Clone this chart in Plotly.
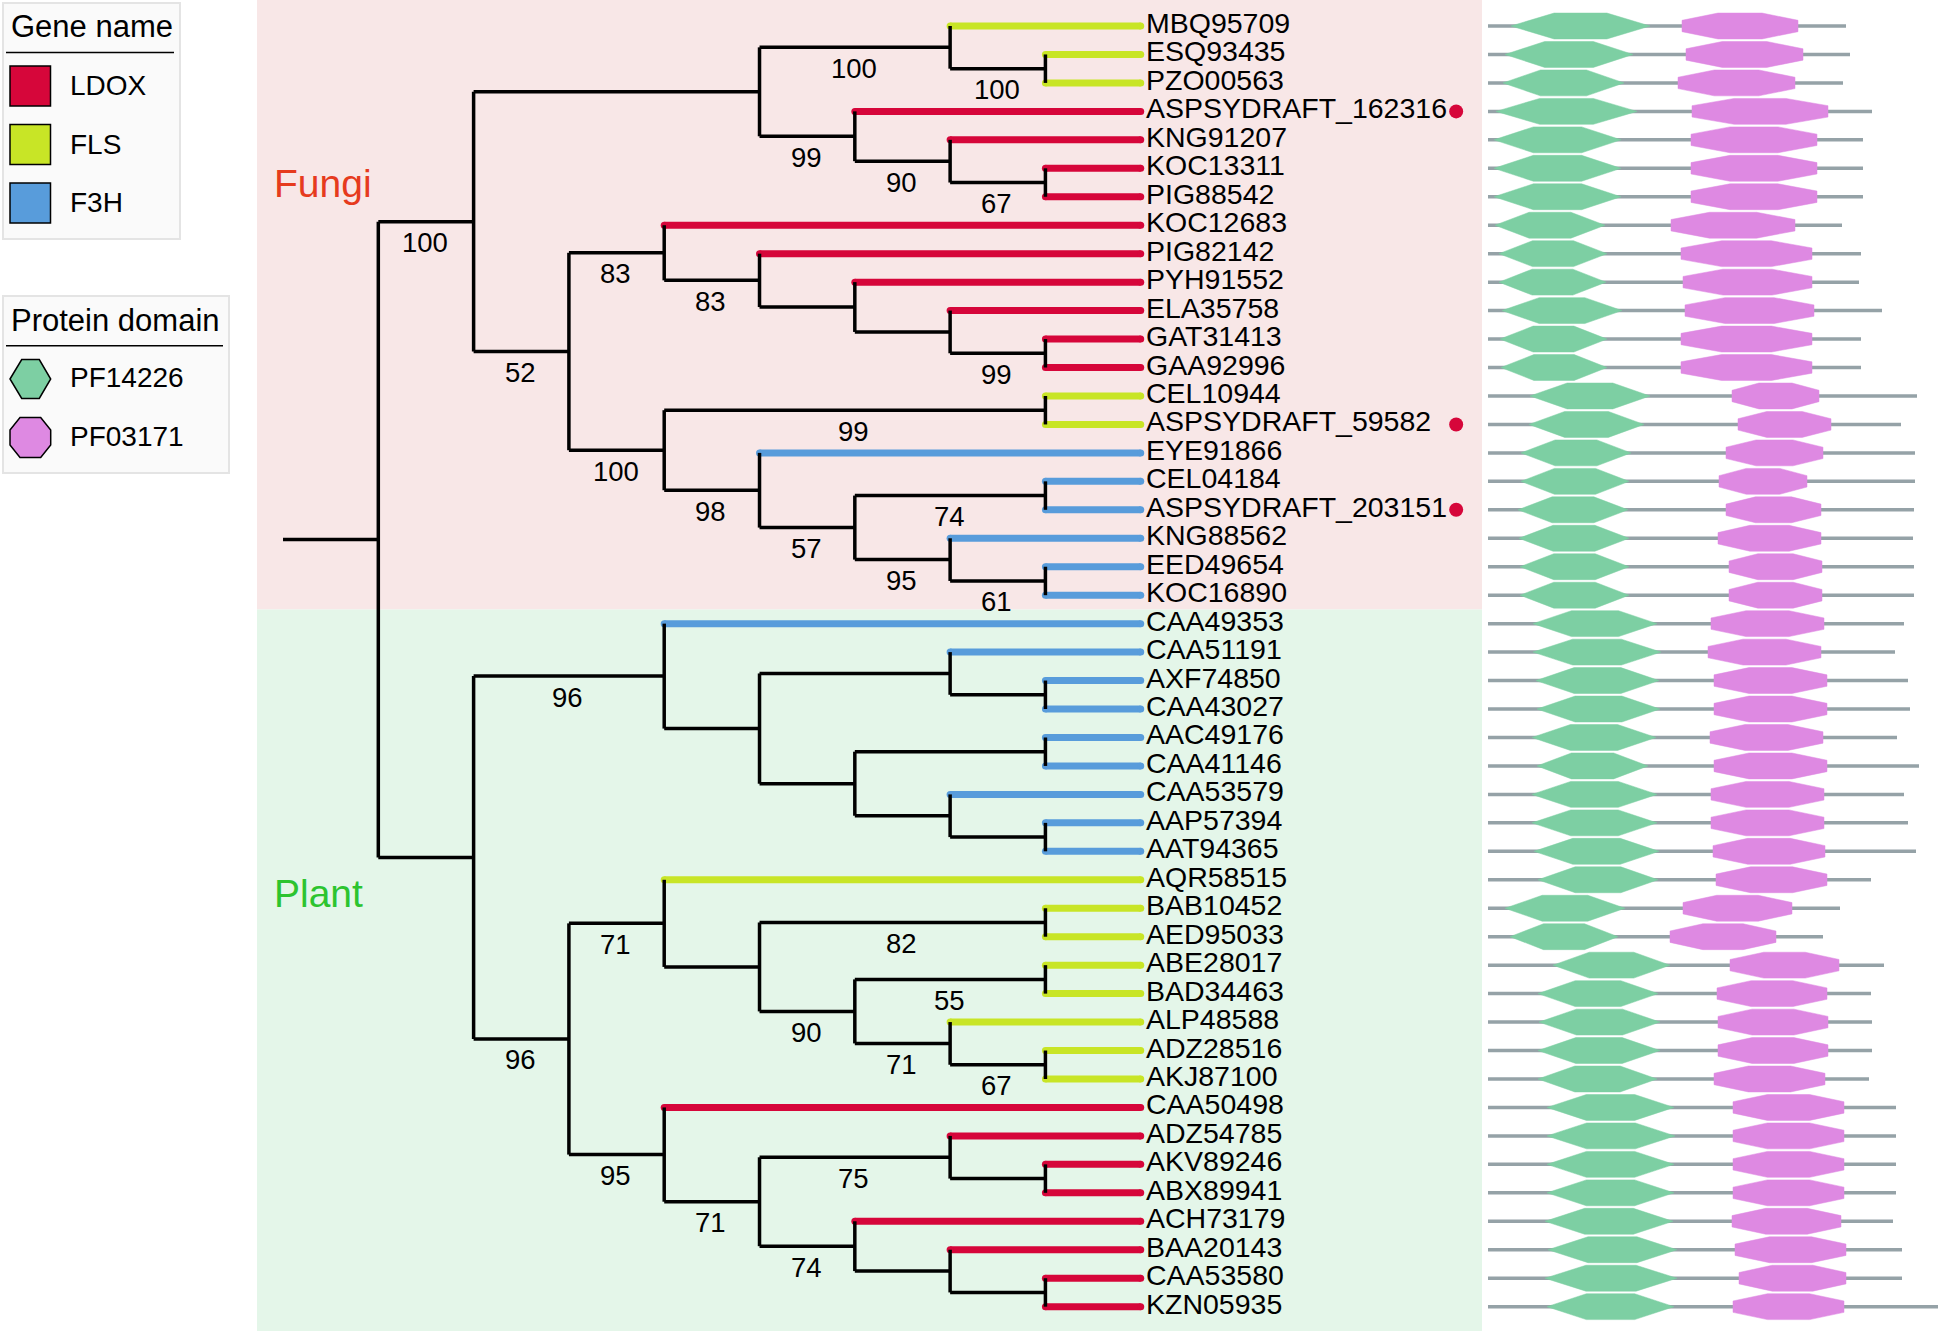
import plotly.graph_objects as go

W, H = 1947, 1331

# ---------------- DATA ----------------
# Tree topology (Newick, cladogram branch lengths in levels, internal labels = bootstrap support)
fungi_a1 = "((MBQ95709:2,(ESQ93435:1,PZO00563:1)100:1)100:2,(ASPSYDRAFT_162316:3,(KNG91207:2,(KOC13311:1,PIG88542:1)67:1)90:1)99:1):3"
fungi_a2a = "(KOC12683:5,(PIG82142:4,(PYH91552:3,(ELA35758:2,(GAT31413:1,GAA92996:1)99:1):1):1)83:1)83:1"
fungi_a2b = "((CEL10944:1,ASPSYDRAFT_59582:1)99:4,(EYE91866:4,((CEL04184:1,ASPSYDRAFT_203151:1)74:2,(KNG88562:2,(EED49654:1,KOC16890:1)61:1)95:1)57:1)98:1)100:1"
plant_p1 = "(CAA49353:5,((CAA51191:2,(AXF74850:1,CAA43027:1):1):2,((AAC49176:1,CAA41146:1):2,(CAA53579:2,(AAP57394:1,AAT94365:1):1):1):1):1)96:2"
plant_fls = "(AQR58515:5,((BAB10452:1,AED95033:1)82:3,((ABE28017:1,BAD34463:1)55:2,(ALP48588:2,(ADZ28516:1,AKJ87100:1)67:1)71:1)90:1):1)71:1"
plant_ldox = "(CAA50498:5,((ADZ54785:2,(AKV89246:1,ABX89941:1):1)75:2,(ACH73179:3,(BAA20143:2,(CAA53580:1,KZN05935:1):1):1)74:1)71:1)95:1"

# gene class of each leaf, in tree order (top to bottom)
gene_class = (["FLS"] * 3 + ["LDOX"] * 10 + ["FLS"] * 2 + ["F3H"] * 15 +
              ["FLS"] * 8 + ["LDOX"] * 8)
marked_genes = ["ASPSYDRAFT_162316", "ASPSYDRAFT_59582", "ASPSYDRAFT_203151"]

# protein architecture (amino-acid positions), in tree order
protein_len = [358, 362, 355, 384, 375, 375, 375, 354, 373, 371, 394,
               373, 373, 429, 413, 427, 427, 426, 425, 426, 426, 416,
               407, 420, 422, 409, 431, 416, 420, 428, 383, 352, 335, 396,
               383, 384, 384, 381, 408, 408, 408, 408, 405, 414, 414, 450]
pf14226_start = [23, 17, 15, 8, 6, 6, 6, 7, 11, 11, 14,
                 12, 13, 42, 41, 33, 33, 30, 31, 32, 32, 45,
                 45, 48, 49, 44, 49, 44, 44, 46, 50, 17, 22, 65,
                 50, 51, 50, 50, 59, 59, 59, 59, 57, 60, 57, 59]
pf14226_end = [162, 145, 136, 149, 133, 133, 133, 117, 119, 118, 134,
               119, 119, 162, 156, 143, 141, 140, 141, 141, 141, 169,
               173, 171, 172, 168, 160, 169, 169, 171, 170, 137, 130, 182,
               170, 172, 172, 169, 186, 187, 186, 186, 185, 189, 189, 186]
pf03171_start = [194, 198, 190, 204, 203, 203, 203, 183, 193, 195, 197,
                 193, 193, 244, 250, 238, 231, 238, 230, 241, 241, 223,
                 220, 226, 226, 222, 226, 223, 223, 225, 228, 195, 182, 242,
                 229, 230, 230, 226, 245, 245, 245, 245, 244, 247, 251, 245]
pf03171_end = [310, 315, 307, 340, 329, 329, 329, 307, 324, 324, 326,
               324, 324, 331, 343, 335, 319, 333, 333, 334, 334, 336,
               333, 339, 339, 335, 339, 336, 336, 337, 339, 304, 288, 351,
               339, 340, 340, 337, 356, 356, 356, 356, 353, 358, 358, 356]

gene_legend = ["LDOX", "FLS", "F3H"]
domain_legend = ["PF14226", "PF03171"]

# ---------------- STYLE ----------------
FONT = "Liberation Sans, Arial, sans-serif"
gene_colors = {"LDOX": "#D6063A", "FLS": "#C8E526", "F3H": "#589CDB"}
hex_color = "#7DCFA3"
oct_color = "#DE89E2"
grey = "#95A2A7"
pink_bg = "#F8E7E7"
green_bg = "#E4F6E9"

newick = ("((" + fungi_a1 + ",(" + fungi_a2a + "," + fungi_a2b + ")52:1)100:1,(" +
          plant_p1 + ",(" + plant_fls + "," + plant_ldox + ")96:1):1):1;")


def parse_newick(s):
    pos = 0

    def node():
        nonlocal pos
        n = {"children": [], "name": "", "support": "", "length": 0.0}
        if s[pos] == "(":
            pos += 1
            while True:
                n["children"].append(node())
                c = s[pos]
                pos += 1
                if c == ")":
                    break
        start = pos
        while s[pos] not in ":,();":
            pos += 1
        txt = s[start:pos]
        if n["children"]:
            n["support"] = txt
        else:
            n["name"] = txt
        if s[pos] == ":":
            pos += 1
            start = pos
            while s[pos] not in ",();":
                pos += 1
            n["length"] = float(s[start:pos])
        return n

    return node()


root = parse_newick(newick)
leaves = []


def layout(n, parent_x):
    n["x0"] = parent_x
    n["x"] = parent_x + n["length"]
    if not n["children"]:
        n["y"] = len(leaves)
        leaves.append(n)
    else:
        for c in n["children"]:
            layout(c, n["x"])
        n["y"] = (n["children"][0]["y"] + n["children"][-1]["y"]) / 2


layout(root, 0.0)

bx, by = [], []
cseg = {k: ([], []) for k in gene_colors}
supports = []


def collect(n):
    if n["children"]:
        bx.extend([n["x0"], n["x"], None])
        by.extend([n["y"], n["y"], None])
        bx.extend([n["x"], n["x"], None])
        by.extend([n["children"][0]["y"], n["children"][-1]["y"], None])
        if n["support"]:
            supports.append(((n["x0"] + n["x"]) / 2, n["y"], n["support"]))
        for c in n["children"]:
            collect(c)
    else:
        cls = gene_class[n["y"]]
        xs, ys = cseg[cls]
        xs.extend([n["x0"], n["x"], None])
        ys.extend([n["y"], n["y"], None])


collect(root)

fig = go.Figure()

# coloured terminal branches
for cls, (xs, ys) in cseg.items():
    fig.add_trace(go.Scatter(x=xs, y=ys, mode="lines+markers",
                             line=dict(color=gene_colors[cls], width=7),
                             marker=dict(color=gene_colors[cls], size=7),
                             hoverinfo="skip", xaxis="x", yaxis="y"))
# black internal branches
fig.add_trace(go.Scatter(x=bx, y=by, mode="lines",
                         line=dict(color="black", width=3.5),
                         hoverinfo="skip", xaxis="x", yaxis="y"))

# marker dots after selected gene names
dot_col = 12.31
mk_y = [lf["y"] for lf in leaves if lf["name"] in marked_genes]
fig.add_trace(go.Scatter(x=[dot_col] * len(mk_y), y=mk_y, mode="markers",
                         marker=dict(color=gene_colors["LDOX"], size=14),
                         hoverinfo="skip", xaxis="x", yaxis="y"))

# domain architecture panel
h = 0.455
v = 0.2
lx, ly = [], []
hx, hy = [], []
ox, oy = [], []
for i in range(len(protein_len)):
    lx.extend([0, protein_len[i], None])
    ly.extend([i, i, None])
    s, e = pf14226_start[i], pf14226_end[i]
    k = 0.31 * (e - s)
    hx.extend([s, s + k, e - k, e, e - k, s + k, s, None])
    hy.extend([i, i - h, i - h, i, i + h, i + h, i, None])
    s, e = pf03171_start[i], pf03171_end[i]
    k = 0.31 * (e - s)
    ox.extend([s, s + k, e - k, e, e, e - k, s + k, s, s, None])
    oy.extend([i - v, i - h, i - h, i - v, i + v, i + h, i + h, i + v, i - v, None])

fig.add_trace(go.Scatter(x=lx, y=ly, mode="lines", line=dict(color=grey, width=3.5),
                         hoverinfo="skip", xaxis="x2", yaxis="y"))
fig.add_trace(go.Scatter(x=hx, y=hy, mode="lines", fill="toself", fillcolor=hex_color,
                         line=dict(color=hex_color, width=0.5),
                         hoverinfo="skip", xaxis="x2", yaxis="y"))
fig.add_trace(go.Scatter(x=ox, y=oy, mode="lines", fill="toself", fillcolor=oct_color,
                         line=dict(color=oct_color, width=0.5),
                         hoverinfo="skip", xaxis="x2", yaxis="y"))

annotations = []
for lf in leaves:
    annotations.append(dict(x=lf["x"], y=lf["y"], xref="x", yref="y", text=lf["name"],
                            xanchor="left", yanchor="middle", xshift=3, yshift=3,
                            showarrow=False, font=dict(family=FONT, size=28.5, color="black")))
for (sx, sy, lab) in supports:
    annotations.append(dict(x=sx, y=sy, xref="x", yref="y", text=lab,
                            xanchor="center", yanchor="middle", yshift=-21, xshift=-1,
                            showarrow=False, font=dict(family=FONT, size=27.5, color="black")))


def px(x):
    return x / W


def py(y):
    return 1 - y / H


shapes = []
# clade backgrounds
split = (leaves[20]["y"] + leaves[21]["y"]) / 2
shapes.append(dict(type="rect", xref="paper", yref="y", x0=px(257), x1=px(1482),
                   y0=-2, y1=split, fillcolor=pink_bg, line=dict(width=0), layer="below"))
shapes.append(dict(type="rect", xref="paper", yref="y", x0=px(257), x1=px(1482),
                   y0=split, y1=48, fillcolor=green_bg, line=dict(width=0), layer="below"))

annotations.append(dict(x=px(272), y=py(184), xref="paper", yref="paper", text="Fungi",
                        xanchor="left", yanchor="middle", showarrow=False,
                        font=dict(family=FONT, size=39, color="#E63B1E")))
annotations.append(dict(x=px(272), y=py(893), xref="paper", yref="paper", text="Plant",
                        xanchor="left", yanchor="middle", showarrow=False,
                        font=dict(family=FONT, size=39, color="#2CC42F")))

# legend: gene name
shapes.append(dict(type="rect", xref="paper", yref="paper", x0=px(3), x1=px(180),
                   y0=py(239), y1=py(3), fillcolor="#FAFAFA",
                   line=dict(color="#E4E4E4", width=2)))
annotations.append(dict(x=px(9), y=py(27), xref="paper", yref="paper", text="Gene name",
                        xanchor="left", yanchor="middle", showarrow=False,
                        font=dict(family=FONT, size=31, color="black")))
shapes.append(dict(type="line", xref="paper", yref="paper", x0=px(6), x1=px(174),
                   y0=py(52.5), y1=py(52.5), line=dict(color="black", width=1.6)))
for j, g in enumerate(gene_legend):
    cy = 86 + 58.5 * j
    shapes.append(dict(type="rect", xref="paper", yref="paper", x0=px(10), x1=px(50.5),
                       y0=py(cy + 20), y1=py(cy - 20), fillcolor=gene_colors[g],
                       line=dict(color="black", width=1.5)))
    annotations.append(dict(x=px(68), y=py(cy - 0.5), xref="paper", yref="paper", text=g,
                            xanchor="left", yanchor="middle", showarrow=False,
                            font=dict(family=FONT, size=28, color="black")))

# legend: protein domain
shapes.append(dict(type="rect", xref="paper", yref="paper", x0=px(3), x1=px(229),
                   y0=py(473), y1=py(296), fillcolor="#FAFAFA",
                   line=dict(color="#E4E4E4", width=2)))
annotations.append(dict(x=px(9), y=py(320.5), xref="paper", yref="paper", text="Protein domain",
                        xanchor="left", yanchor="middle", showarrow=False,
                        font=dict(family=FONT, size=31, color="black")))
shapes.append(dict(type="line", xref="paper", yref="paper", x0=px(6), x1=px(223),
                   y0=py(345.7), y1=py(345.7), line=dict(color="black", width=1.6)))


def path(pts):
    return "M " + " L ".join(f"{px(a):.5f},{py(b):.5f}" for a, b in pts) + " Z"


hex_pts = [(10, 379), (21.7, 359.5), (39.3, 359.5), (50.7, 379), (39.3, 398.5), (21.7, 398.5)]
oct_pts = [(10, 430), (20, 417.5), (40.7, 417.5), (50.7, 430), (50.7, 445),
           (40.7, 457.5), (20, 457.5), (10, 445)]
for pts, colr, cy, lab in [(hex_pts, hex_color, 378, domain_legend[0]),
                           (oct_pts, oct_color, 436.5, domain_legend[1])]:
    shapes.append(dict(type="path", xref="paper", yref="paper", path=path(pts),
                       fillcolor=colr, line=dict(color="black", width=1.5)))
    annotations.append(dict(x=px(68), y=py(cy), xref="paper", yref="paper", text=lab,
                            xanchor="left", yanchor="middle", showarrow=False,
                            font=dict(family=FONT, size=28, color="black")))

split_px = 1488 / W
fig.update_layout(
    width=W, height=H,
    margin=dict(l=0, r=0, t=0, b=0),
    paper_bgcolor="white", plot_bgcolor="rgba(0,0,0,0)",
    showlegend=False,
    xaxis=dict(domain=[0, split_px], range=[-2.9696, 12.644], visible=False, fixedrange=True),
    xaxis2=dict(domain=[split_px, 1], range=[0, 459], visible=False, anchor="y", fixedrange=True),
    yaxis=dict(domain=[0, 1], range=[45.855, -0.9136], visible=False, fixedrange=True),
    shapes=shapes, annotations=annotations,
)

fig.write_html("out.html", config={"displayModeBar": False},
               post_script="document.body.style.margin='0';document.body.style.overflow='hidden';")
